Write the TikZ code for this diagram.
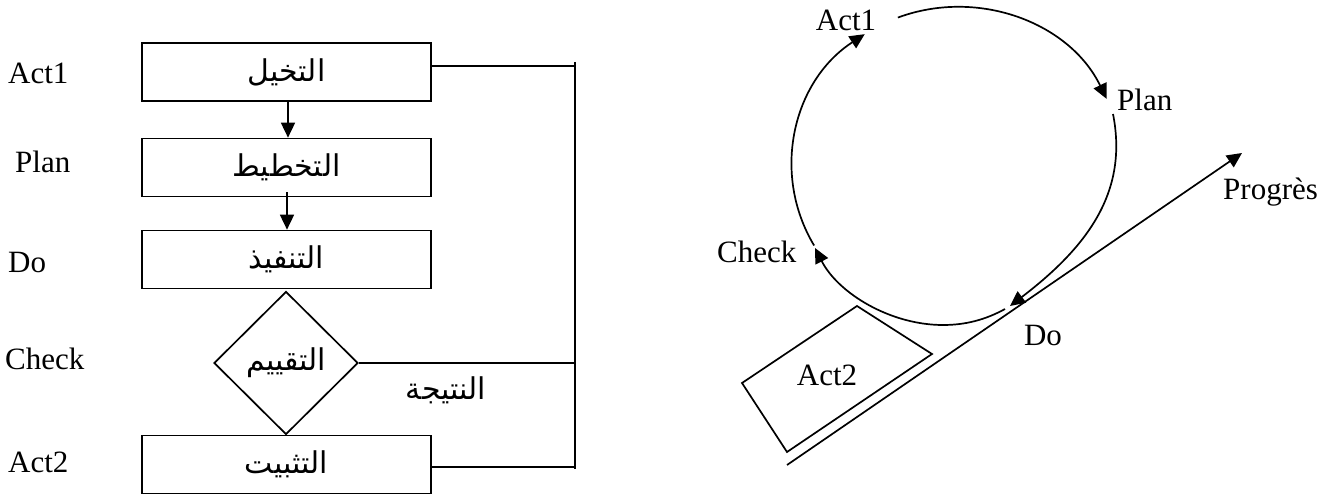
\documentclass[tikz,border=0pt]{standalone}
\usepackage{fontspec}
\setmainfont{Liberation Serif}
\newfontfamily\arabicfont[Script=Arabic]{DejaVu Sans}
\TeXXeTstate=1
\usetikzlibrary{arrows.meta,shapes.geometric}
\tikzset{
  lat/.style={font=\fontsize{31}{36}\selectfont, inner sep=0pt},
  ar/.style={font=\fontsize{30}{36}\selectfont\arabicfont, inner sep=0pt},
  stepbox/.style={draw, line width=1.7pt, minimum width=289pt, minimum height=58pt, inner sep=0pt},
  dec/.style={draw, diamond, line width=1.7pt, minimum width=144pt, minimum height=143pt, inner sep=0pt},
  ln/.style={line width=1.7pt},
  arr/.style={line width=1.7pt, -{Triangle[length=15pt,width=14pt]}},
}
\begin{document}
\begin{tikzpicture}[x=1pt,y=-1pt]
\useasboundingbox (0,0) rectangle (1341,495);
% ---------- left flowchart ----------
\node[stepbox] (b1) at (286.5,72) {};
\node[ar] at (b1) {\beginR التخيل\endR};
\node[stepbox] (b2) at (286.5,167.5) {};
\node[ar] at (b2) {\beginR التخطيط\endR};
\node[stepbox] (b3) at (286.5,259.5) {};
\node[ar] at (b3) {\beginR التنفيذ\endR};
\node[dec] (d) at (286,363) {};
\node[ar] at (d) {\beginR التقييم\endR};
\node[stepbox] (b5) at (286.5,464.5) {};
\node[ar] at (b5) {\beginR التثبيت\endR};
\node[ar] (res) at (446,390) {\beginR النتيجة\endR};

\node[lat, anchor=west] (l1) at (8,73) {Act1};
\node[lat, anchor=west] (l2) at (15,162) {Plan};
\node[lat, anchor=west] (l3) at (8,263) {Do};
\node[lat, anchor=west] (l4) at (5,359) {Check};
\node[lat, anchor=west] (l5) at (8,462) {Act2};

\draw[arr] (b1.south -| 288,0) -- (b2.north -| 288,0);
\draw[arr] ([yshift=5pt]b2.south -| 287,0) -- (b3.north -| 287,0);

\coordinate (vt) at (575,62);
\coordinate (vb) at (575,469);
\draw[ln] (vt) -- (vb);
\draw[ln] ([yshift=6pt]b1.east) -- ([yshift=6pt]b1.east -| vt);
\draw[ln] (d.east) -- (d.east -| vt);
\draw[ln] ([yshift=-2.5pt]b5.east) -- ([yshift=-2.5pt]b5.east -| vt);

% ---------- right cycle ----------
\coordinate (c) at (957,166);
\node[lat] (ra1) at (846,20) {Act1};
\node[lat, anchor=west] (rpl) at (1117,100) {Plan};
\node[lat, anchor=west] (rch) at (717,252) {Check};
\node[lat] (rdo) at (1043,335) {Do};
\node[lat, anchor=west] (rpr) at (1223,192) {Progrès};

\draw[arr] (c) ++(-111:165 and 159) arc[start angle=-111, end angle=-25, x radius=165, y radius=159];
\draw[arr] (1113,114) .. controls (1128,190) and (1090,245) .. (1010,306);
\draw[arr] (1005,309) .. controls (985,320) and (965,325) .. (943,325)
   .. controls (890,325) and (838,293) .. (815,248);
\draw[arr] (c) ++(-210:165 and 159) arc[start angle=-210, end angle=-124, x radius=165, y radius=159];

\coordinate (p0) at (787,465);
\coordinate (p1) at (1242,153);
\draw[arr] (p0) -- (p1);

\coordinate (q1) at (857,306);
\coordinate (q2) at (932,354);
\coordinate (q3) at (787,452);
\coordinate (q4) at (742,383);
\draw[ln, line join=miter] (q1) -- (q2) -- (q3) -- (q4) -- cycle;
\node[lat] (ra2) at (827,375) {Act2};
\end{tikzpicture}
\end{document}
